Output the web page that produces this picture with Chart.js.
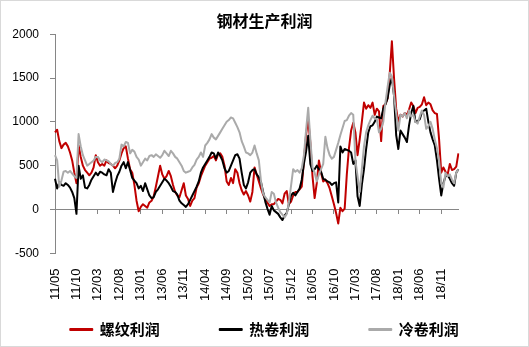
<!DOCTYPE html>
<html>
<head>
<meta charset="utf-8">
<script src="https://cdn.jsdelivr.net/npm/chart.js@4.4.1/dist/chart.umd.min.js"></script>
<style>
    html, body { margin: 0; padding: 0; background: #fff; }
    #wrap { position: relative; width: 529px; height: 347px; }
    #frame { position: absolute; left: 0; top: 0; width: 529px; height: 347px; box-sizing: border-box; border: 1px solid #d9d9d9; pointer-events: none; }
</style>
</head>
<body>
<div id="wrap">
    <canvas id="profitChart" width="529" height="347"></canvas>
    <div id="frame"></div>
</div>
<script>
// 半月一个点, 2011/05 - 2019/03
const START_YEAR = 2011;
const START_MONTH = 5;
const POINTS = 189;

const tickLabels = ['11/05', '11/10', '12/03', '12/08', '13/01', '13/06', '13/11', '14/04', '14/09', '15/02',
    '15/07', '15/12', '16/05', '16/10', '17/03', '17/08', '18/01', '18/06', '18/11'];

const categories = [];
for (let i = 0; i < POINTS; i++) {
    const m = START_MONTH - 1 + Math.floor(i / 2);
    const y = START_YEAR + Math.floor(m / 12);
    const mm = String(m % 12 + 1).padStart(2, '0');
    categories.push(`${y}-${mm}-${i % 2 ? '16' : '01'}`);
}

// 螺纹利润
const rebarProfit = [
    880, 910, 780, 700, 740, 760, 720, 650, 560, 420,
    300, 730, 600, 500, 450, 420, 390, 420, 480, 620,
    540, 500, 520, 500, 560, 530, 520, 500, 470, 500,
    560, 640, 700, 720, 580, 460, 420, 280, 100, -20,
    30, 60, 40, 20, 80, 100, 150, 260, 380, 500,
    400, 350, 380, 440, 380, 280, 200, 160, 140, 220,
    300, 160, 120, 40, 100, 130, 250, 300, 380, 440,
    500, 540, 580, 590, 610, 560, 630, 640, 600, 500,
    320, 280, 360, 300, 460, 420, 300, 220, 170, 210,
    160, 90, 200, 480, 400, 320, 240, 170, 120, 80,
    40, 60, 60, 90, 120, 110, 70, 180, 210, 60,
    90, 160, 200, 200, 230, 260, 560, 850, 1030, 760,
    380, 130, 300, 560, 420, 320, 340, 300, 240, 150,
    60, -40, -160, 20, -20, 10, 400, 700, 900, 990,
    880, 620, 800, 1000, 1220, 1150, 1190, 1160, 1220, 1080,
    1150, 1120, 780, 1180, 1200, 1270, 1550, 1920, 1500, 1150,
    1000, 1080, 1060, 1100, 1080, 1140, 1220, 1180, 1100, 1160,
    1170, 1200, 1280, 1190, 1220, 1200, 1130, 1100, 1090, 800,
    420, 480, 430, 400, 520, 450, 460, 490, 640
];

// 热卷利润
const hotRolledProfit = [
    350, 240, 310, 280, 270, 300, 280, 250, 200, 130,
    -50, 500, 350, 390, 250, 240, 280, 340, 380, 420,
    390, 430, 420, 400, 390, 460, 420, 200, 300, 380,
    430, 500, 540, 470, 540, 450, 360, 330, 300, 240,
    270, 210, 300, 230, 160, 130, 140, 200, 230, 270,
    310, 350, 330, 300, 260, 210, 200, 170, 100, 70,
    50, 30, 60, 110, 160, 210, 260, 320, 420, 480,
    520, 560, 600, 650, 640, 580, 650, 610, 560, 470,
    420, 440, 500, 560, 620, 630, 580, 420, 280, 240,
    310, 420, 450, 460, 400, 370, 310, 200, 90, 10,
    -60, 40, -10, -30, -50, -90, -120, -70, -40, 60,
    160, 190, 160, 200, 240, 340, 520, 660, 840, 520,
    440, 460, 500, 460, 430, 350, 340, 320, 310, 280,
    300, 310, 80, 720, 650, 690, 680, 670, 650, 520,
    560, 150, 40, 280, 460, 690, 880, 950, 960, 1000,
    1060, 1050, 1040, 1150, 1200, 1270, 1420, 1500, 1300, 850,
    690, 900, 860, 820, 770, 960, 1100, 1180, 1000, 1010,
    1030, 1110, 1130, 1150, 1000, 880, 800, 730, 560, 350,
    160, 300, 380, 390, 350, 300, 270, 420, 460
];

// 冷卷利润
const coldRolledProfit = [
    620, 560, 260, 330, 430, 440, 420, 440, 410, 380,
    360, 860, 720, 620, 560, 500, 520, 540, 560, 600,
    600, 560, 540, 570, 560, 550, 520, 500, 530, 540,
    580, 740, 720, 770, 760, 640, 680, 660, 600, 570,
    500, 540, 580, 560, 610, 620, 600, 630, 610, 590,
    620, 670, 640, 610, 670, 640, 600, 580, 540, 500,
    440, 420, 430, 440, 480, 510, 570, 600, 650, 600,
    730, 760, 800, 860, 820, 800, 840, 880, 920, 960,
    1000, 1020, 1050, 1040, 990, 940, 880, 780, 720, 650,
    640, 620, 650, 730, 640, 560, 320, 180, 140, 110,
    80, 200, 180, 80, 20, -30, -60, -90, -50, 80,
    270, 460, 430, 450, 420, 470, 620, 900, 1160, 800,
    480, 420, 320, 400, 460, 520, 830, 700, 620, 580,
    600, 680, 760, 850, 930, 1010, 1020, 1070, 1100, 1080,
    560, 380, 200, 460, 720, 880, 960, 1020, 1070, 1040,
    1030, 880, 920, 1000, 1220, 1400, 1560, 1520, 1300, 1100,
    900, 1080, 1060, 1100, 1040, 1130, 1060, 1080, 1000, 980,
    1060, 1130, 1080, 920, 950, 1000, 920, 800, 700, 560,
    300, 250, 420, 380, 400, 340, 300, 420, 460
];

const CJK = '"Noto Sans CJK SC", sans-serif';
const AXIS_GREY = '#868686';

function lineSet(label, data, color, order) {
    return {
        label,
        data,
        borderColor: color,
        backgroundColor: color,
        borderWidth: 2,
        pointRadius: 0,
        tension: 0,
        borderJoinStyle: 'round',
        order
    };
}

new Chart(document.getElementById('profitChart'), {
    type: 'line',
    data: {
        labels: categories,
        datasets: [
            lineSet('螺纹利润', rebarProfit, '#c00000', 3),
            lineSet('热卷利润', hotRolledProfit, '#000000', 2),
            lineSet('冷卷利润', coldRolledProfit, '#aaaaaa', 1)
        ]
    },
    options: {
        responsive: false,
        animation: false,
        devicePixelRatio: 1,
        layout: { padding: 0 },
        plugins: {
            title: {
                display: true,
                text: '钢材生产利润',
                color: '#000',
                font: { family: CJK, size: 16, weight: 'bold' },
                padding: { top: 11, bottom: 4 }
            },
            legend: {
                position: 'bottom',
                labels: {
                    boxWidth: 22,
                    boxHeight: 1,
                    padding: 60,
                    color: '#000',
                    font: { family: CJK, size: 15, weight: 'bold' },
                    sort: (a, b) => a.datasetIndex - b.datasetIndex
                }
            },
            tooltip: { enabled: false }
        },
        scales: {
            // 数据轴, 只在底部留出空位
            x: {
                type: 'category',
                position: 'bottom',
                border: { display: false },
                grid: { display: false, drawTicks: false },
                ticks: { display: false },
                afterFit: s => { s.height = 8.7; }
            },
            // 零线上的分类轴, 标签压到图底下
            xz: {
                axis: 'x',
                type: 'category',
                position: { y: 0 },
                border: { color: AXIS_GREY },
                grid: {
                    drawOnChartArea: false,
                    drawTicks: true,
                    tickLength: 4,
                    color: AXIS_GREY,
                    tickColor: ctx => (ctx.index % 10 === 0 ? AXIS_GREY : 'rgba(0,0,0,0)')
                },
                ticks: {
                    autoSkip: false,
                    minRotation: 90,
                    maxRotation: 90,
                    padding: 55,
                    color: '#000',
                    font: { family: 'Liberation Sans', size: 13 },
                    callback: (v, i) => (i % 10 === 0 ? tickLabels[i / 10] : '')
                }
            },
            y: {
                min: -500,
                max: 2000,
                border: { color: AXIS_GREY },
                grid: { drawOnChartArea: false, tickLength: 5, color: AXIS_GREY },
                ticks: {
                    stepSize: 500,
                    padding: 11,
                    color: '#000',
                    font: { family: 'Liberation Sans', size: 12 },
                    callback: v => String(v)
                },
                afterFit: s => { s.width = 54.5; }
            },
            // 右侧留白
            yr: {
                axis: 'y',
                type: 'linear',
                position: 'right',
                border: { display: false },
                grid: { display: false, drawTicks: false },
                ticks: { display: false },
                afterFit: s => { s.width = 26; }
            }
        }
    }
});
</script>
</body>
</html>
